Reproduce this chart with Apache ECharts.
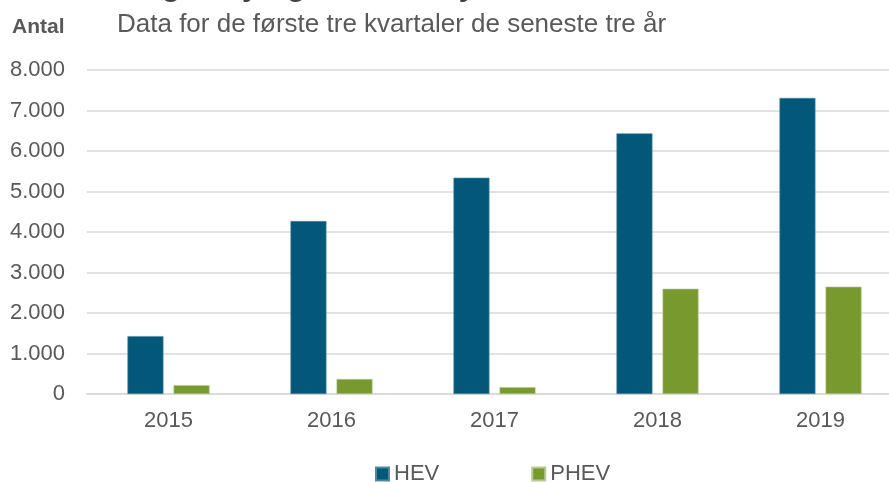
<!DOCTYPE html>
<html>
<head>
<meta charset="utf-8">
<script src="https://cdn.jsdelivr.net/npm/echarts@6/dist/echarts.min.js"></script>
<style>
  html, body { margin: 0; padding: 0; background: #fff; overflow: hidden; }
  #chart { width: 902px; height: 482px; }
</style>
</head>
<body>
<div id="chart"></div>
<script>
  var years = ['2015', '2016', '2017', '2018', '2019']
  var hev = [1430, 4270, 5340, 6435, 7310]
  var phev = [220, 370, 170, 2600, 2650]
  var yTicks = [0, 1000, 2000, 3000, 4000, 5000, 6000, 7000, 8000]

  var myChart = echarts.init(document.getElementById('chart'))

  var fmt = function (v) {
    return String(v).replace(/\B(?=(\d{3})+(?!\d))/g, '.')
  }

  var option = {
    animation: false,
    textStyle: { fontFamily: 'Liberation Sans, Arial, sans-serif' },
    title: [
      {
        text: 'Salg af nyregistrerede hybridbiler',
        left: 112,
        top: -32,
        textStyle: { fontSize: 30, fontWeight: 'bold', color: '#404040' }
      },
      {
        text: 'Data for de første tre kvartaler de seneste tre år',
        left: 112,
        top: 7,
        textStyle: { fontSize: 26, fontWeight: 'normal', color: '#595959' }
      },
      {
        text: 'Antal',
        left: 7,
        top: 12,
        textStyle: { fontSize: 21, fontWeight: 'bold', color: '#595959' }
      }
    ],
    legend: {
      top: 458,
      left: 370,
      itemWidth: 13,
      itemHeight: 13,
      itemGap: 92,
      icon: 'rect',
      textStyle: { fontSize: 22, color: '#595959' },
      data: ['HEV', 'PHEV']
    },
    grid: {
      left: 87,
      right: 0,
      top: 70,
      bottom: 88
    },
    xAxis: {
      type: 'category',
      data: years,
      axisTick: { show: false },
      axisLine: { lineStyle: { color: '#d9d9d9', width: 1.5 } },
      axisLabel: { fontSize: 22, color: '#595959', margin: 16 }
    },
    yAxis: {
      type: 'value',
      min: yTicks[0],
      max: yTicks[yTicks.length - 1],
      interval: 1000,
      axisLine: { show: false },
      axisTick: { show: false },
      splitLine: { lineStyle: { color: '#d9d9d9', width: 1.5 } },
      axisLabel: {
        fontSize: 22,
        color: '#595959',
        margin: 22,
        formatter: fmt
      }
    },
    series: [
      {
        name: 'HEV',
        type: 'bar',
        barWidth: 36,
        barGap: '28%',
        itemStyle: { color: '#03587a', borderColor: '#4f8aa3', borderWidth: 0.6 },
        data: hev
      },
      {
        name: 'PHEV',
        type: 'bar',
        barWidth: 36,
        itemStyle: { color: '#77992e', borderColor: '#b7cc8f', borderWidth: 0.6 },
        data: phev
      }
    ]
  }
  myChart.setOption(option)
</script>
</body>
</html>
